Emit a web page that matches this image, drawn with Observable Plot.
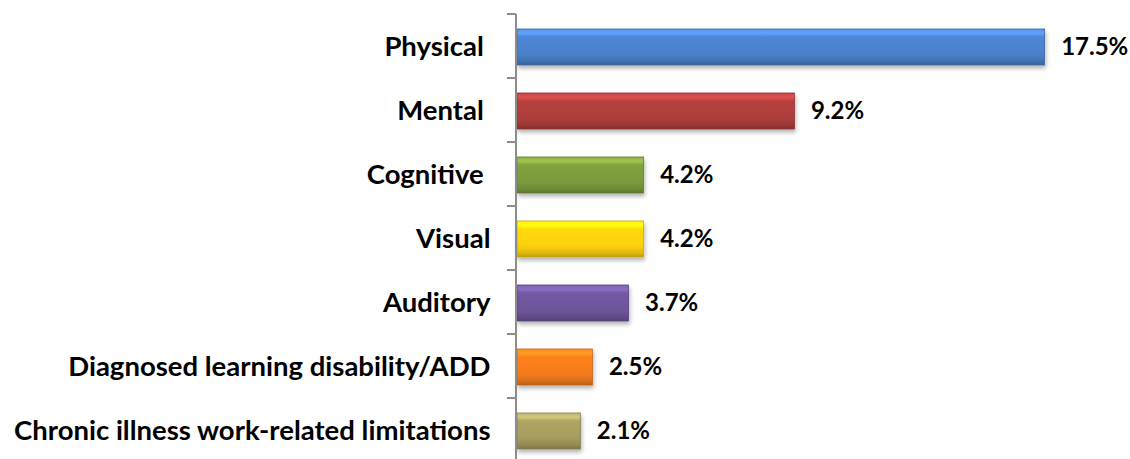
<!DOCTYPE html>
<html>
<head>
<meta charset="utf-8">
<script src="https://cdn.jsdelivr.net/npm/d3@7"></script>
<script src="https://cdn.jsdelivr.net/npm/@observablehq/plot@0.6"></script>
<style>
  html, body { margin: 0; padding: 0; background: #fff; }
  #chart { width: 1130px; height: 459px; overflow: hidden; }
  svg { overflow: visible; }
</style>
</head>
<body>
<div id="chart"></div>
<script>
const categories = [
  "Physical\u00a0",
  "Mental\u00a0",
  "Cognitive\u00a0",
  "Visual",
  "Auditory",
  "Diagnosed learning disability/ADD",
  "Chronic illness work-related limitations"
];
const values = [17.5, 9.2, 4.2, 4.2, 3.7, 2.5, 2.1];
const valueLabels = ["17.5%", "9.2%", "4.2%", "4.2%", "3.7%", "2.5%", "2.1%"];
const barColors = ["#4a80cb", "#ad3e3b", "#7a9a3c", "#fccf0c", "#6d559b", "#f47b1c", "#a59c5f"];

const data = categories.map((c, i) => ({category: c, value: values[i], label: valueLabels[i]}));
const gradIds = categories.map((c, i) => `bar-grad-${i}`);

const font = "Lato, 'Open Sans', sans-serif";

const plot = Plot.plot({
  width: 1130,
  height: 459,
  marginLeft: 517,
  marginRight: 10,
  marginTop: 14,
  marginBottom: -5,
  style: {fontFamily: font, background: "transparent"},
  x: {domain: [0, 20], axis: null},
  y: {domain: categories, paddingInner: 0.44, paddingOuter: 0.22, label: null},
  color: {domain: categories, range: gradIds.map(id => `url(#${id})`)},
  marks: [
    Plot.barX(data, {
      y: "category",
      x: "value",
      fill: "category",
      stroke: d => d3.color(barColors[categories.indexOf(d.category)]).darker(0.6).formatHex(),
      strokeWidth: 0.8
    }),
    Plot.text(data, {
      y: "category",
      x: "value",
      text: "label",
      dx: 16,
      textAnchor: "start",
      fontSize: 24,
      fontWeight: "bold",
      fill: "#000"
    }),
    Plot.axisY({
      tickSize: 0,
      tickPadding: 27,
      fontSize: 27.5,
      fontWeight: "bold",
      fill: "#000",
      label: null
    })
  ]
});

// gradient definitions (bevel look) and drop shadow
const svg = d3.select(plot);
const defs = svg.insert("defs", ":first-child");
barColors.forEach((c, i) => {
  const base = d3.color(c);
  const g = defs.append("linearGradient")
    .attr("id", gradIds[i]).attr("x1", 0).attr("y1", 0).attr("x2", 0).attr("y2", 1);
  g.append("stop").attr("offset", "0%").attr("stop-color", base.brighter(0.4).formatHex());
  g.append("stop").attr("offset", "12%").attr("stop-color", base.brighter(0.7).formatHex());
  g.append("stop").attr("offset", "22%").attr("stop-color", base.brighter(0.15).formatHex());
  g.append("stop").attr("offset", "70%").attr("stop-color", base.formatHex());
  g.append("stop").attr("offset", "90%").attr("stop-color", base.darker(0.35).formatHex());
  g.append("stop").attr("offset", "100%").attr("stop-color", base.darker(0.8).formatHex());
});
const f = defs.append("filter").attr("id", "bar-shadow")
  .attr("x", "-5%").attr("y", "-20%").attr("width", "110%").attr("height", "160%");
f.append("feDropShadow").attr("dx", 1).attr("dy", 3).attr("stdDeviation", 2)
  .attr("flood-color", "#000").attr("flood-opacity", 0.3);
svg.select("g[aria-label='bar']").attr("filter", "url(#bar-shadow)");

// axis line and boundary ticks from the y scale
const yS = plot.scale("y");
const xS = plot.scale("x");
const x0 = xS.apply(0) - 1;
const r0 = yS.range[0];
const step = yS.step;
const axisG = svg.append("g").attr("stroke", "#8c8c8c").attr("stroke-width", 2);
axisG.append("line").attr("x1", x0).attr("x2", x0).attr("y1", r0).attr("y2", r0 + step * categories.length);
for (let i = 0; i <= categories.length; i++) {
  const yy = r0 + i * step;
  axisG.append("line").attr("x1", x0 - 9).attr("x2", x0).attr("y1", yy).attr("y2", yy);
}

document.getElementById("chart").appendChild(plot);
</script>
</body>
</html>
